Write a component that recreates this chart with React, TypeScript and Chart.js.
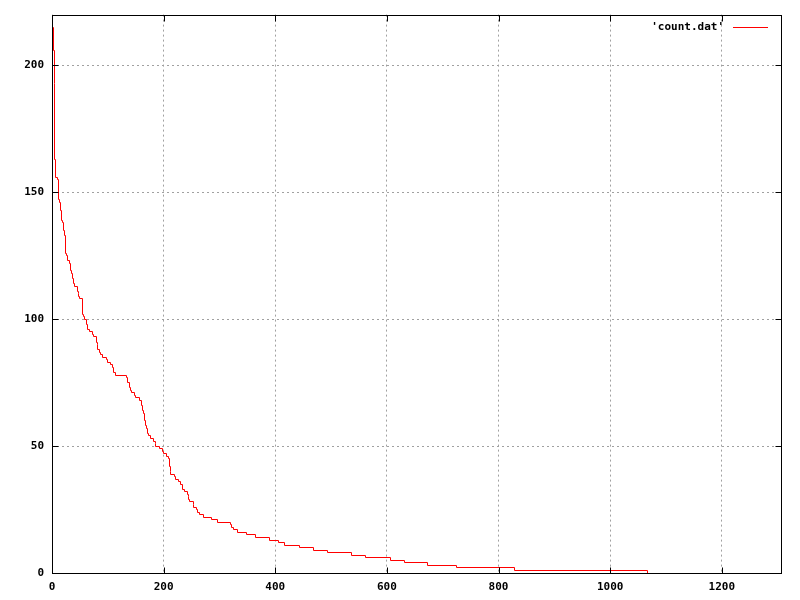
import React, { useEffect, useRef } from "react";
import { Chart, registerables } from "chart.js";

Chart.register(...registerables);

// ---- data ----
const seriesLabel = "'count.dat'";
const seriesColor = "#ff0000";
const stepX = [
  1, 2, 4, 5, 7, 9, 11, 13, 15, 17,
  19, 20, 23, 24, 26, 28, 32, 33, 35, 37,
  39, 40, 45, 47, 48, 50, 54, 57, 59, 61,
  63, 67, 73, 75, 79, 81, 82, 85, 87, 90,
  97, 99, 105, 109, 111, 114, 133, 135, 139, 141,
  143, 148, 150, 156, 160, 162, 164, 165, 167, 169,
  171, 173, 177, 182, 185, 186, 192, 198, 199, 205,
  209, 210, 212, 213, 219, 222, 226, 231, 233, 238,
  242, 244, 245, 247, 253, 254, 259, 260, 265, 272,
  285, 296, 319, 322, 326, 333, 349, 365, 389, 405,
  416, 444, 468, 494, 536, 561, 607, 631, 672, 725,
  828, 1066,
];
const stepCount = [
  215, 206, 193, 163, 156, 155, 147, 146, 143, 139,
  138, 135, 133, 126, 125, 123, 122, 119, 118, 116,
  114, 113, 111, 110, 109, 108, 102, 101, 100, 98,
  96, 95, 94, 93, 91, 90, 88, 87, 86, 85,
  84, 83, 82, 81, 79, 78, 77, 75, 73, 72,
  71, 70, 69, 68, 66, 64, 63, 60, 58, 57,
  55, 54, 53, 52, 51, 50, 49, 48, 47, 46,
  45, 42, 40, 39, 38, 37, 36, 35, 33, 32,
  31, 30, 29, 28, 27, 26, 25, 24, 23, 22,
  21, 20, 19, 18, 17, 16, 15, 14, 13, 12,
  11, 10, 9, 8, 7, 6, 5, 4, 3, 2,
  1, 0,
];
const xTickValues = [0, 200, 400, 600, 800, 1000, 1200];
const yTickValues = [0, 50, 100, 150, 200];
const xMax = 1306;
const yMax = 220;

const FONT_FAMILY = "'DejaVu Sans Mono', 'Liberation Mono', monospace";

// snap the library-computed point positions to pixel centres (crisp 1px steps like gnuplot's png)
const pixelSnap = {
  id: "pixelSnap",
  beforeDatasetsDraw(chart: any) {
    chart.data.datasets.forEach((_: any, i: number) => {
      const meta = chart.getDatasetMeta(i);
      for (const el of meta.data) {
        el.x = Math.floor(el.x) + 0.5;
        el.y = Math.floor(el.y) + 0.5;
      }
      if (meta.dataset) meta.dataset._path = undefined;
    });
  },
};

const gnuplotFrame = {
  id: "gnuplotFrame",
  afterDatasetsDraw(chart: any) {
    const { ctx, chartArea: a, scales } = chart;
    const L = Math.round(a.left) + 0.5;
    const R = Math.round(a.right) + 0.5;
    const T = Math.round(a.top) + 0.5;
    const B = Math.round(a.bottom) + 0.5;
    const tl = 6;
    ctx.save();
    ctx.setLineDash([]);
    ctx.strokeStyle = "#000000";
    ctx.lineWidth = 1;
    ctx.beginPath();
    for (const t of scales.x.ticks) {
      const px = Math.round(scales.x.getPixelForValue(t.value)) + 0.5;
      ctx.moveTo(px, B);
      ctx.lineTo(px, B - tl);
      ctx.moveTo(px, T);
      ctx.lineTo(px, T + tl);
    }
    for (const t of scales.y.ticks) {
      const py = Math.round(scales.y.getPixelForValue(t.value)) + 0.5;
      ctx.moveTo(L, py);
      ctx.lineTo(L + tl, py);
      ctx.moveTo(R, py);
      ctx.lineTo(R - tl, py);
    }
    ctx.stroke();
    ctx.strokeRect(L, T, R - L, B - T);

    // key (legend) inside top-right
    const ky = Math.round(a.top + 12) + 0.5;
    ctx.font = `bold 11px ${FONT_FAMILY}`;
    ctx.fillStyle = "#000000";
    ctx.textAlign = "right";
    ctx.textBaseline = "middle";
    ctx.fillText(seriesLabel, a.right - 57, ky);
    ctx.beginPath();
    ctx.strokeStyle = seriesColor;
    ctx.lineWidth = 1;
    ctx.moveTo(a.right - 48, ky);
    ctx.lineTo(a.right - 13, ky);
    ctx.stroke();
    ctx.restore();
  },
};

export default function App() {
  const canvasRef = useRef<HTMLCanvasElement | null>(null);

  useEffect(() => {
    const canvas = canvasRef.current;
    if (!canvas) return;
    const tickFont = { family: FONT_FAMILY, size: 11, weight: "bold" as const };
    const chart = new Chart(canvas, {
      type: "line",
      data: {
        datasets: [
          {
            label: seriesLabel,
            data: stepX.map((x, i) => ({ x, y: stepCount[i] })),
            borderColor: seriesColor,
            backgroundColor: seriesColor,
            borderWidth: 1,
            pointRadius: 0,
            stepped: true,
            fill: false,
          },
        ],
      },
      options: {
        animation: false,
        responsive: false,
        devicePixelRatio: 1,
        layout: { padding: { top: 14, right: 19, left: 0, bottom: 0 } },
        plugins: {
          legend: { display: false },
          tooltip: { enabled: false },
        },
        scales: {
          x: {
            type: "linear",
            min: 0,
            max: xMax,
            afterBuildTicks: (s: any) => {
              s.ticks = xTickValues.map((v) => ({ value: v }));
            },
            afterFit: (s: any) => {
              s.height = 27;
            },
            ticks: {
              font: tickFont,
              color: "#000000",
              padding: 8,
              maxRotation: 0,
              autoSkip: false,
              callback: (v: any) => String(v),
            },
            grid: { color: "#a0a0a0", lineWidth: 1, drawTicks: false },
            border: { display: false, dash: [2, 3] },
          },
          y: {
            type: "linear",
            min: 0,
            max: yMax,
            afterBuildTicks: (s: any) => {
              s.ticks = yTickValues.map((v) => ({ value: v }));
            },
            afterFit: (s: any) => {
              s.width = 52;
            },
            ticks: {
              font: tickFont,
              color: "#000000",
              padding: 8,
              autoSkip: false,
              callback: (v: any) => String(v),
            },
            grid: { color: "#a0a0a0", lineWidth: 1, drawTicks: false },
            border: { display: false, dash: [2, 3] },
          },
        },
      },
      plugins: [pixelSnap, gnuplotFrame],
    });
    return () => chart.destroy();
  }, []);

  return (
    <div style={{ position: "absolute", left: 0, top: 0, width: 800, height: 600, background: "#ffffff" }}>
      <canvas ref={canvasRef} width={800} height={600} style={{ display: "block" }} />
    </div>
  );
}
